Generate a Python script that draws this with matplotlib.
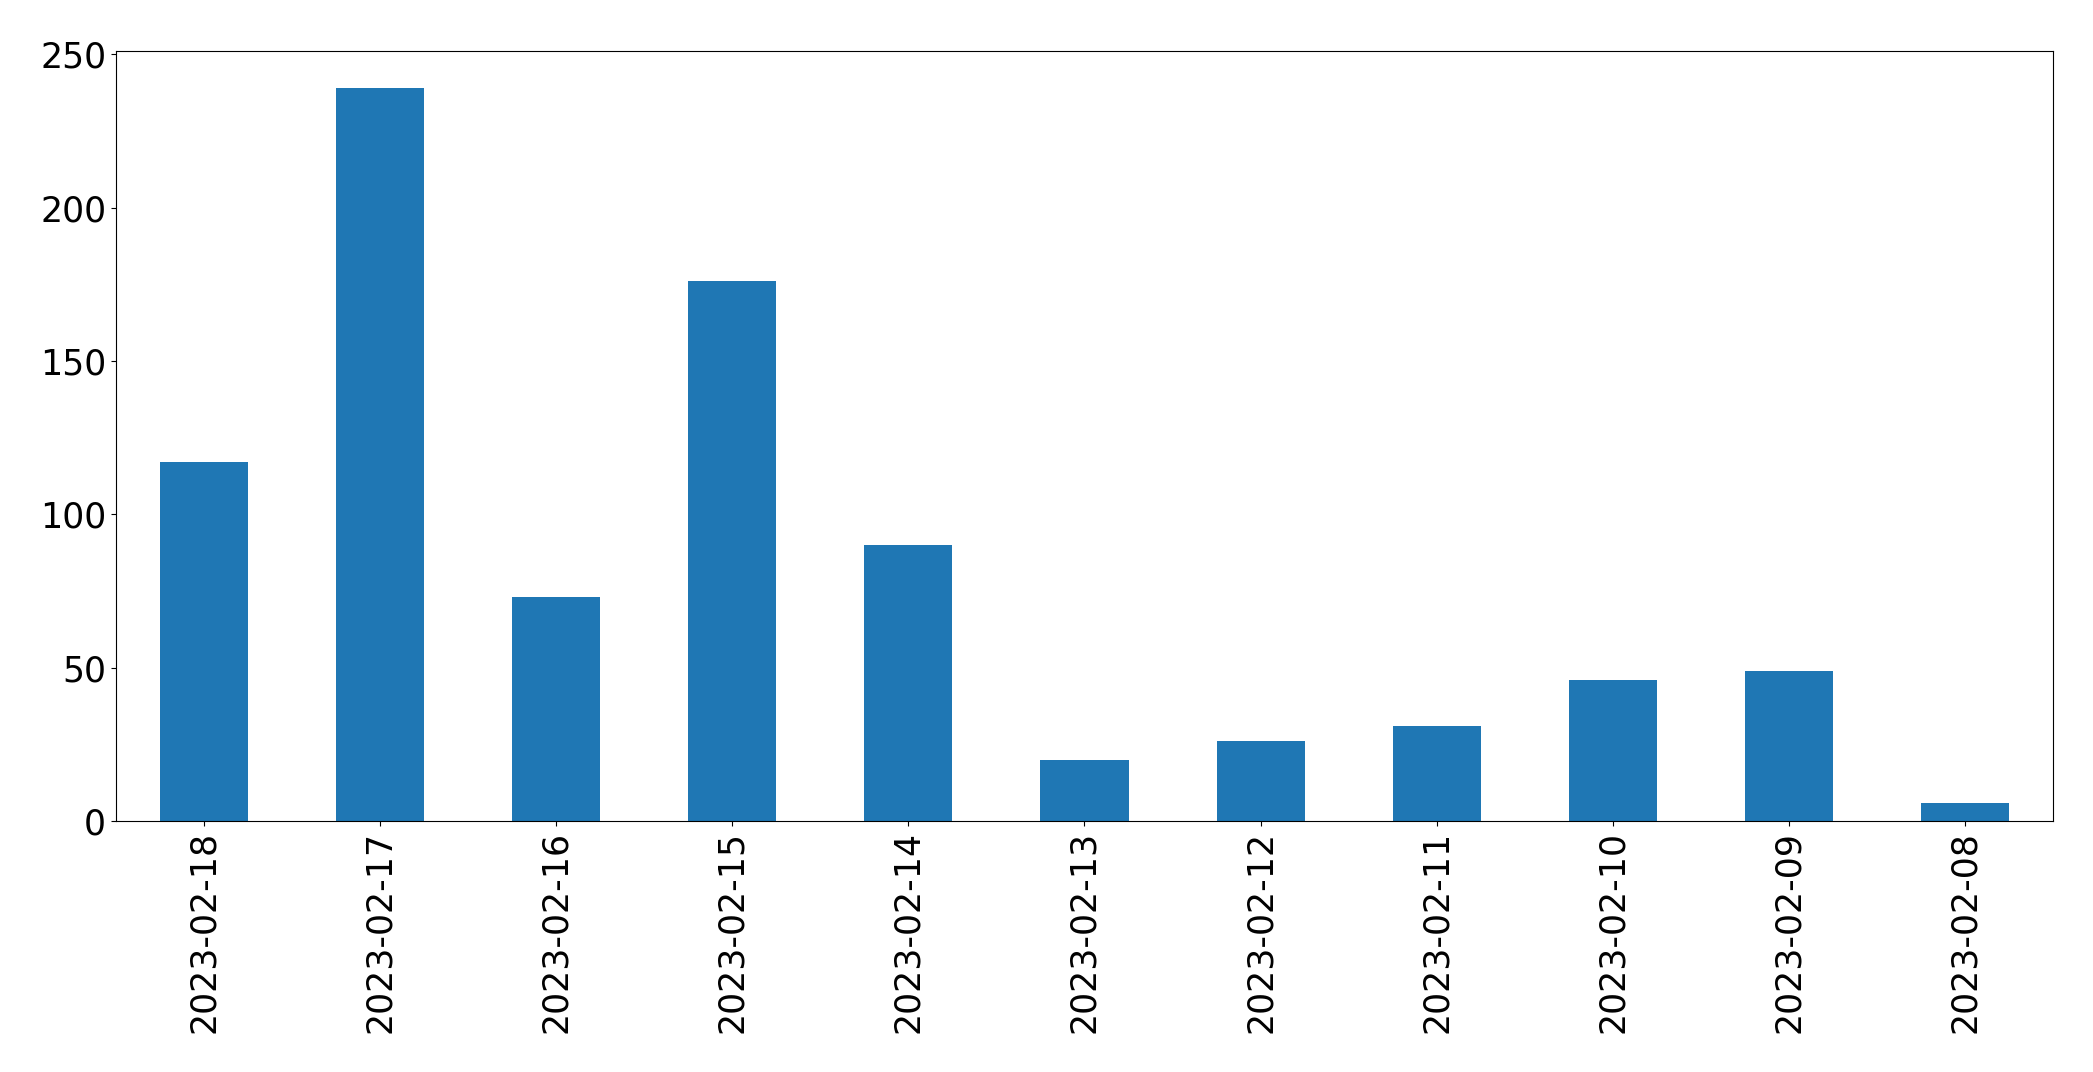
import pandas as pd
import matplotlib
matplotlib.use('Agg')
import matplotlib.pyplot as plt

dates = ['2023-02-18', '2023-02-17', '2023-02-16', '2023-02-15', '2023-02-14',
         '2023-02-13', '2023-02-12', '2023-02-11', '2023-02-10', '2023-02-09',
         '2023-02-08']
counts = [117, 239, 73, 176, 90, 20, 26, 31, 46, 49, 6]

s = pd.Series(counts, index=dates)

fig = plt.figure(figsize=(20.93, 10.72), dpi=100)
ax = fig.add_axes([0.0554, 0.234, 0.9255, 0.718])
s.plot(kind='bar', ax=ax, color='#1f77b4')
ax.tick_params(axis='both', labelsize=25)
plt.savefig('out.png', dpi=100)
plt.close()
